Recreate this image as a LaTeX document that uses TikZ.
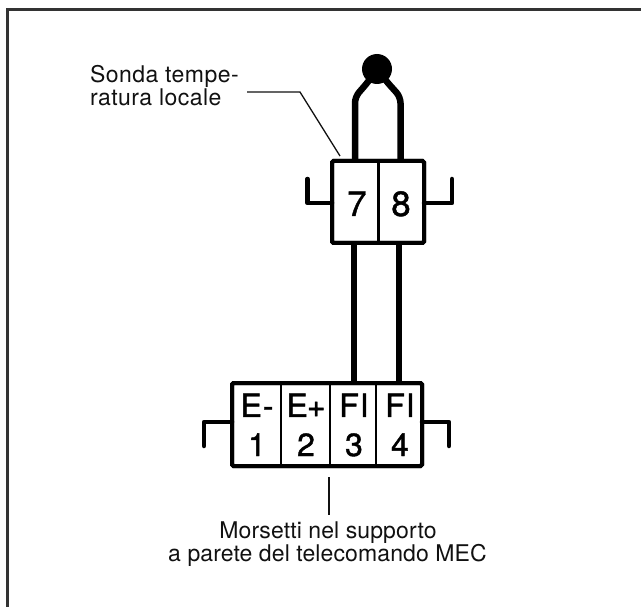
\documentclass[tikz,border=0pt]{standalone}
\usepackage{fontspec}
\setmainfont{TeX Gyre Heros}
\newfontfamily\digitfont[FakeBold=1.2]{TeX Gyre Heros}
\newfontfamily\wideA[LetterSpace=2.0]{TeX Gyre Heros}
\newfontfamily\wideB[LetterSpace=0.5]{TeX Gyre Heros}
\definecolor{framec}{HTML}{333333}
\definecolor{inkc}{HTML}{111111}
\tikzset{
  x=1pt,y=-1pt,
  framel/.style={draw=framec,line width=3pt,line cap=butt},
  boxn/.style={draw=black,line width=4pt,rounded corners=1.5pt,inner sep=0pt,outer sep=0pt,fill=white},
  divl/.style={draw=black,line width=2.8pt},
  wirel/.style={draw=black,line width=6.5pt,line join=round},
  earl/.style={draw=black,line width=4.5pt,line cap=round,line join=round},
  leader/.style={draw=inkc,line width=1.3pt},
  lab/.style={inner sep=0pt,outer sep=0pt,text=inkc,anchor=base west},
  labA/.style={lab,font=\wideA\fontsize{23}{23}\selectfont},
  labB/.style={lab,anchor=base,font=\wideB\fontsize{23}{23}\selectfont},
  big/.style={inner sep=0pt,outer sep=0pt,anchor=base,font=\digitfont\fontsize{35}{35}\selectfont},
  mid/.style={inner sep=0pt,outer sep=0pt,anchor=base,font=\digitfont\fontsize{32}{32}\selectfont},
}
\begin{document}
\begin{tikzpicture}
\useasboundingbox (0,0) rectangle (641,607);
\fill[white] (0,0) rectangle (641,607);
\draw[framel] (7,607) -- (7,10) -- (641,10);
% wires
\node[circle,fill=black,minimum size=30pt,inner sep=0pt,outer sep=0pt] (sensor) at (377,69) {};
\node[boxn,minimum width=92pt,minimum height=82pt] (upper) at (378,202) {};
\node[boxn,minimum width=190pt,minimum height=83pt] (lower) at (327,424.5) {};
\coordinate (wa1) at (355,97); \coordinate (wa2) at (368,82);
\coordinate (wb1) at (400.5,97); \coordinate (wb2) at (387,82);
\coordinate (ut7) at (355,161); \coordinate (ut8) at (400.5,161);
\coordinate (ub7) at (354,243); \coordinate (ub8) at (399,243);
\coordinate (lt3) at (354,383); \coordinate (lt4) at (399,383);
\draw[wirel,rounded corners=6pt] (sensor.center) -- (wa2) -- (wa1) -- (ut7);
\draw[wirel,rounded corners=6pt] (sensor.center) -- (wb2) -- (wb1) -- (ut8);
\draw[wirel] (ub7) -- (lt3);
\draw[wirel] (ub8) -- (lt4);
\node[boxn,minimum width=92pt,minimum height=82pt,fill=none] at (upper) {};
\node[boxn,minimum width=190pt,minimum height=83pt,fill=none] at (lower) {};
% dividers
\draw[divl] (378.7,161) -- (378.7,243);
\draw[divl] (281,383) -- (281,466);
\draw[divl] (330,383) -- (330,466);
\draw[divl] (376,383) -- (376,466);
% ears
\coordinate (e1) at (307.5,203); \coordinate (e1t) at (307.5,179);
\coordinate (e2) at (452,203); \coordinate (e2t) at (452,179);
\coordinate (e3) at (204,422); \coordinate (e3b) at (204,446);
\coordinate (e4) at (449,422); \coordinate (e4b) at (449,446);
\draw[earl] (upper.west |- e1) -- (e1) -- (e1t);
\draw[earl] (upper.east |- e2) -- (e2) -- (e2t);
\draw[earl] (lower.west |- e3) -- (e3) -- (e3b);
\draw[earl] (lower.east |- e4) -- (e4) -- (e4b);
% numbers
\node[big] (n7) at (357,216) {7};
\node[big] (n8) at (401,216) {8};
\node[mid] (t1) at (257,417) {E\kern1pt-};
\node[mid] (t2) at (306,417) {E\kern-1pt+};
\node[mid] (t3) at (354,417) {F\kern1pt I};
\node[mid] (t4) at (400,417) {F\kern1pt I};
\node[mid] (n1) at (257,456) {1};
\node[mid] (n2) at (306,456) {2};
\node[mid] (n3) at (354,456) {3};
\node[mid] (n4) at (400,456) {4};
% labels
\node[labA] (sonda1) at (90,83) {Sonda tempe-};
\node[labA] (sonda2) at (90,106) {ratura locale};
\node[labB] (mors1) at (328,538) {Morsetti nel supporto};
\node[labB] (mors2) at (327.5,561) {a parete del telecomando MEC};
\coordinate (la) at (247,92); \coordinate (lb) at (300,92); \coordinate (lc) at (340,156);
\draw[leader] (la) -- (lb) -- (lc);
\coordinate (ld) at (329,477); \coordinate (le) at (329,515);
\draw[leader] (ld) -- (le);
\end{tikzpicture}
\end{document}
